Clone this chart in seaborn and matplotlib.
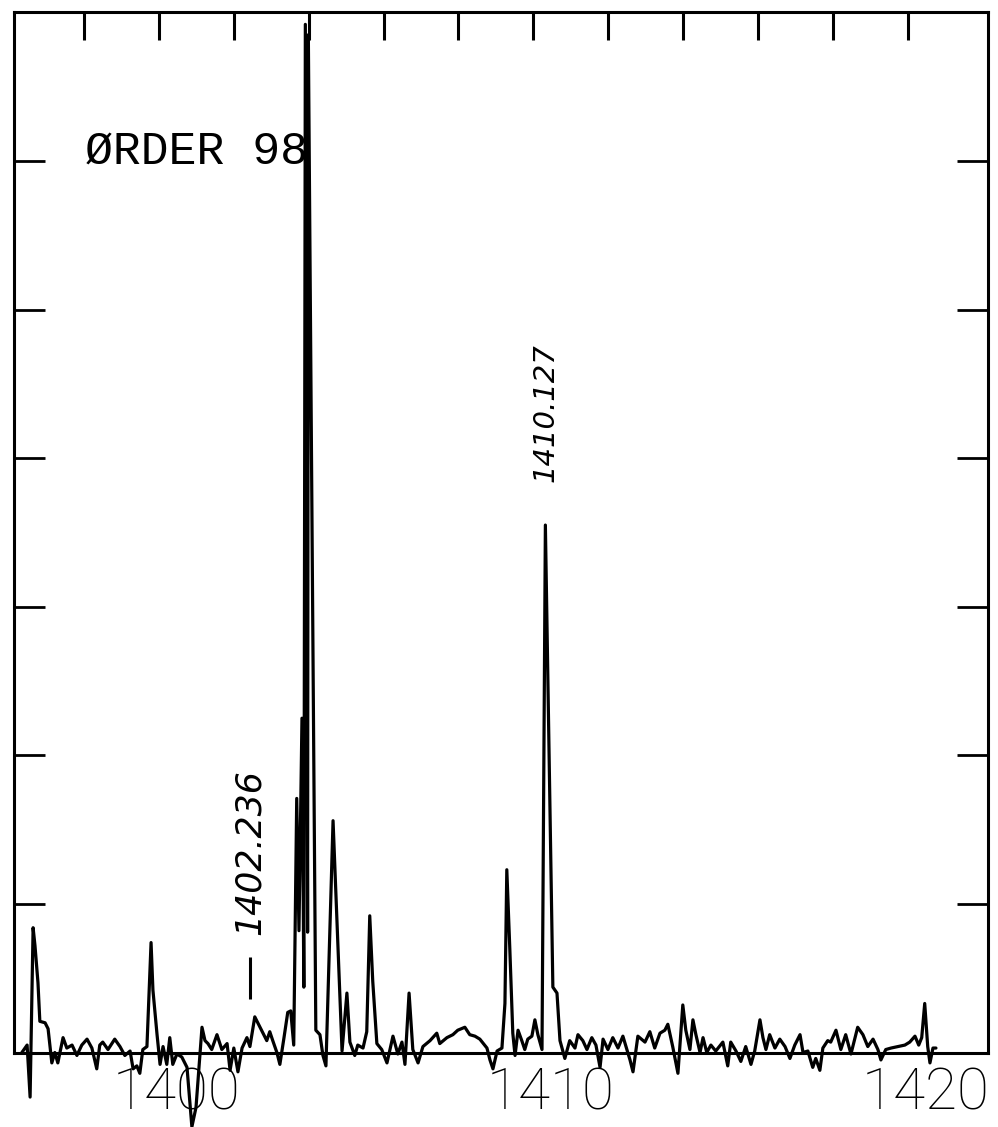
import numpy as np
import pandas as pd
import matplotlib
matplotlib.use("Agg")
import matplotlib.pyplot as plt
import matplotlib.transforms as mtransforms
import seaborn as sns
from matplotlib.ticker import FixedLocator

# spectrum, order 98 (wavelength in Angstrom, intensity in tick units)
wavelength = [
    1396.14, 1396.28, 1396.36, 1396.44, 1396.49, 1396.57, 1396.62, 1396.76, 1396.84, 1396.94,
    1397.02, 1397.10, 1397.24, 1397.34, 1397.48, 1397.61, 1397.74, 1397.88, 1398.01, 1398.14,
    1398.22, 1398.30, 1398.44, 1398.62, 1398.76, 1398.89, 1399.03, 1399.11, 1399.21, 1399.29,
    1399.37, 1399.48, 1399.59, 1399.64, 1399.75, 1399.83, 1399.91, 1400.01, 1400.09, 1400.17,
    1400.28, 1400.41, 1400.55, 1400.68, 1400.79, 1400.95, 1401.03, 1401.11, 1401.21, 1401.35,
    1401.48, 1401.62, 1401.70, 1401.80, 1401.91, 1402.02, 1402.15, 1402.23, 1402.36, 1402.50,
    1402.60, 1402.68, 1402.76, 1402.84, 1402.95, 1403.03, 1403.14, 1403.24, 1403.32, 1403.40,
    1403.48, 1403.54, 1403.62, 1403.67, 1403.71, 1403.77, 1403.79, 1403.99, 1404.10, 1404.18,
    1404.26, 1404.45, 1404.69, 1404.82, 1404.90, 1405.03, 1405.11, 1405.25, 1405.35, 1405.43,
    1405.51, 1405.62, 1405.75, 1405.89, 1406.05, 1406.18, 1406.29, 1406.37, 1406.48, 1406.58,
    1406.72, 1406.85, 1407.04, 1407.22, 1407.30, 1407.49, 1407.65, 1407.78, 1407.97, 1408.10,
    1408.24, 1408.37, 1408.56, 1408.64, 1408.72, 1408.83, 1408.96, 1409.04, 1409.09, 1409.17,
    1409.25, 1409.31, 1409.39, 1409.49, 1409.57, 1409.65, 1409.76, 1409.84, 1409.92, 1410.03,
    1410.12, 1410.32, 1410.43, 1410.51, 1410.64, 1410.77, 1410.91, 1410.99, 1411.12, 1411.23,
    1411.36, 1411.47, 1411.58, 1411.66, 1411.79, 1411.92, 1412.06, 1412.19, 1412.38, 1412.46,
    1412.59, 1412.78, 1412.91, 1413.04, 1413.18, 1413.31, 1413.39, 1413.52, 1413.66, 1413.79,
    1413.87, 1413.98, 1414.06, 1414.14, 1414.25, 1414.33, 1414.43, 1414.54, 1414.67, 1414.86,
    1414.99, 1415.07, 1415.21, 1415.34, 1415.47, 1415.61, 1415.71, 1415.85, 1415.93, 1416.01,
    1416.11, 1416.25, 1416.38, 1416.52, 1416.65, 1416.78, 1416.92, 1417.00, 1417.13, 1417.26,
    1417.34, 1417.45, 1417.53, 1417.66, 1417.74, 1417.88, 1418.01, 1418.14, 1418.28, 1418.46,
    1418.60, 1418.73, 1418.87, 1419.00, 1419.08, 1419.21, 1419.35, 1419.53, 1419.72, 1419.85,
    1419.99, 1420.09, 1420.17, 1420.25, 1420.33, 1420.39, 1420.47, 1420.55,
]
intensity = [
    0.00, 0.05, -0.30, 0.84, 0.72, 0.47, 0.21, 0.20, 0.16, -0.07,
    0.00, -0.07, 0.10, 0.03, 0.05, -0.02, 0.05, 0.09, 0.03, -0.11,
    0.05, 0.07, 0.02, 0.09, 0.04, -0.02, 0.01, -0.11, -0.09, -0.14,
    0.02, 0.04, 0.74, 0.42, 0.12, -0.08, 0.04, -0.08, 0.10, -0.08,
    -0.01, -0.03, -0.10, -0.50, -0.37, 0.17, 0.08, 0.06, 0.02, 0.12,
    0.02, 0.06, -0.12, 0.03, -0.13, 0.03, 0.10, 0.04, 0.24, 0.17,
    0.12, 0.08, 0.14, 0.08, 0.00, -0.08, 0.10, 0.27, 0.28, 0.05,
    1.71, 0.82, 2.25, 0.44, 6.92, 0.81, 6.85, 0.15, 0.12, -0.02,
    -0.09, 1.56, 0.01, 0.40, 0.07, -0.02, 0.05, 0.03, 0.14, 0.92,
    0.48, 0.06, 0.02, -0.07, 0.11, -0.01, 0.07, -0.08, 0.40, 0.02,
    -0.07, 0.04, 0.08, 0.13, 0.06, 0.10, 0.12, 0.15, 0.17, 0.12,
    0.11, 0.09, 0.03, -0.05, -0.11, 0.01, 0.03, 0.33, 1.23, 0.70,
    0.13, -0.02, 0.15, 0.08, 0.02, 0.09, 0.11, 0.22, 0.12, 0.02,
    3.55, 0.44, 0.40, 0.08, -0.04, 0.08, 0.03, 0.12, 0.08, 0.02,
    0.10, 0.05, -0.10, 0.09, 0.02, 0.10, 0.03, 0.11, -0.05, -0.13,
    0.11, 0.07, 0.14, 0.03, 0.13, 0.15, 0.19, 0.04, -0.14, 0.32,
    0.15, 0.02, 0.22, 0.12, 0.00, 0.10, 0.00, 0.05, 0.01, 0.07,
    -0.09, 0.07, 0.01, -0.06, 0.04, -0.08, 0.01, 0.22, 0.10, 0.02,
    0.12, 0.03, 0.09, 0.04, -0.04, 0.05, 0.12, 0.00, 0.01, -0.10,
    -0.04, -0.12, 0.03, 0.08, 0.07, 0.15, 0.02, 0.12, -0.01, 0.17,
    0.12, 0.04, 0.09, 0.02, -0.05, 0.02, 0.03, 0.04, 0.05, 0.07,
    0.11, 0.05, 0.10, 0.33, 0.04, -0.07, 0.03, 0.03,
]

label_ticks = [1400, 1410, 1420]
top_ticks = [1397.8, 1399.8, 1401.8, 1403.8, 1405.8, 1407.8,
             1409.8, 1411.8, 1413.8, 1415.8, 1417.8, 1419.8]
intensity_ticks = [1, 2, 3, 4, 5, 6]

line_names = ["1402.236", "1410.127"]
line_pos = [1402.236, 1410.127]
line_label_base = [0.79, 3.84]
label_size = {"1402.236": 25, "1410.127": 21}

sns.set_theme(style="white")
plt.rcParams["font.family"] = ["Roboto", "DejaVu Sans"]

fig = plt.figure(figsize=(9.98, 11.27), dpi=100)
ax = fig.add_axes([0.01403, 0.0661, 0.97595, 0.92281])

df = pd.DataFrame({"wavelength": wavelength, "intensity": intensity})
sns.lineplot(data=df, x="wavelength", y="intensity", ax=ax, color="black",
             linewidth=2.3, sort=False, estimator=None, clip_on=False)

ax.set_xlim(1395.93, 1421.94)
ax.set_ylim(0, 7)
ax.set_xlabel("")
ax.set_ylabel("")
for s in ax.spines.values():
    s.set_visible(True)
    s.set_color("black")
    s.set_linewidth(2.2)

ax.xaxis.set_major_locator(FixedLocator(label_ticks))
ax.xaxis.set_minor_locator(FixedLocator(top_ticks))
ax.set_xticklabels([str(t) for t in label_ticks])
ax.tick_params(axis="x", which="major", bottom=False, top=False,
               labelsize=42, pad=4, labelcolor="black")
ax.tick_params(axis="x", which="minor", bottom=False, top=True,
               direction="in", length=20, width=2.2, color="black")
shift = mtransforms.ScaledTranslation(0.10, 0, fig.dpi_scale_trans)
for lab in ax.get_xticklabels():
    lab.set_fontweight("light")
    lab.set_transform(lab.get_transform() + shift)
ax.set_yticks(intensity_ticks)
ax.tick_params(axis="y", left=True, right=True, direction="in", length=22,
               width=2, color="black", labelleft=False)

ax.text(1397.82, 5.98, "ØRDER 98", fontsize=33.5, family=["Liberation Mono", "DejaVu Sans Mono"],
        color="black", ha="left", va="baseline")

# line identifications
ax.vlines(line_pos[0], 0.36, 0.64, color="black", linewidth=2.2)
for name, pos, base in zip(line_names, line_pos, line_label_base):
    ax.text(pos, base, name, rotation=90, fontsize=label_size[name],
            fontstyle="italic", family=["DejaVu Sans"],
            ha="center", va="bottom", color="black")

fig.savefig("out.png", dpi=100)
